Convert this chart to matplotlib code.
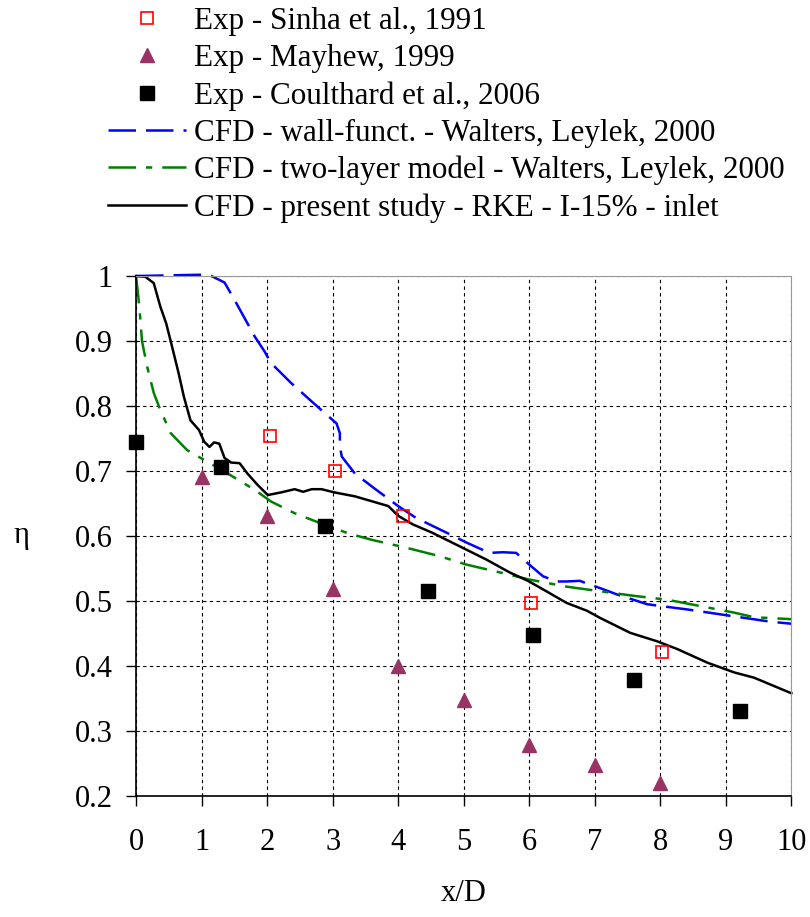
import matplotlib
matplotlib.use('Agg')
import matplotlib.pyplot as plt
from matplotlib import rcParams

rcParams.update({'font.family': 'serif', 'font.serif': ['Liberation Serif'], 'font.size': 22})

# --- experimental data --- #
sinha_x = [2.05, 3.03, 4.07, 6.03, 8.03]
sinha_y = [0.754, 0.700, 0.631, 0.497, 0.421]

mayhew_x = [1, 2, 3, 4, 5, 6, 7, 8]
mayhew_y = [0.690, 0.630, 0.518, 0.400, 0.348, 0.278, 0.248, 0.220]

coult_x = [0.0, 1.30, 2.89, 4.45, 6.05, 7.6, 9.22]
coult_y = [0.744, 0.706, 0.616, 0.515, 0.448, 0.378, 0.330]

# --- CFD: wall functions (Walters, Leylek) --- #
wf_x = [0.0, 0.5, 1.0, 1.15, 1.35, 1.52, 1.81, 1.96, 2.06, 2.37, 2.68, 3.06, 3.11, 3.11,
        3.14, 3.34, 3.64, 4.0, 4.27, 4.78, 5.04, 5.39, 5.6, 5.8, 6.0, 6.21, 6.42, 6.57,
        6.77, 7.13, 7.34, 7.8, 8.1, 8.41, 9.08, 9.69, 10.0]
wf_y = [1.0, 1.001, 1.002, 1.0, 0.99, 0.96, 0.907, 0.884, 0.866, 0.835, 0.807, 0.773, 0.758, 0.737,
        0.722, 0.696, 0.673, 0.646, 0.628, 0.603, 0.590, 0.574, 0.575, 0.574, 0.556, 0.538, 0.530, 0.530,
        0.531, 0.518, 0.510, 0.495, 0.491, 0.487, 0.477, 0.468, 0.465]

# --- CFD: two-layer model (Walters, Leylek) --- #
tl_x = [0.0, 0.05, 0.09, 0.17, 0.27, 0.37, 0.53, 0.78, 1.09, 1.40, 1.81, 2.06, 2.42, 2.83,
        3.24, 3.6, 4.12, 4.63, 5.04, 5.55, 6.0, 6.57, 7.08, 7.59, 8.1, 8.62, 9.13, 9.43, 10.0]
tl_y = [1.0, 0.953, 0.90, 0.86, 0.82, 0.794, 0.758, 0.732, 0.714, 0.696, 0.671, 0.653, 0.635, 0.619,
        0.604, 0.594, 0.582, 0.569, 0.556, 0.544, 0.533, 0.522, 0.515, 0.508, 0.502, 0.492, 0.482, 0.475, 0.472]

# --- CFD: present study --- #
rke_x = [0.0, 0.14, 0.27, 0.37, 0.46, 0.55, 0.65, 0.73, 0.83, 0.96, 1.04, 1.12, 1.19, 1.27,
         1.35, 1.45, 1.58, 1.70, 1.86, 2.01, 2.21, 2.42, 2.55, 2.68, 2.83, 3.03, 3.34, 3.85,
         4.0, 4.22, 4.52, 4.98, 5.34, 5.7, 5.98, 6.26, 6.57, 6.88, 7.08, 7.54, 7.95, 8.26,
         8.72, 9.13, 9.43, 10.0]
rke_y = [1.0, 0.999, 0.989, 0.953, 0.927, 0.891, 0.85, 0.814, 0.778, 0.763, 0.745, 0.737, 0.744, 0.742,
         0.72, 0.713, 0.712, 0.696, 0.678, 0.663, 0.667, 0.672, 0.668, 0.672, 0.672, 0.667, 0.661, 0.646,
         0.631, 0.618, 0.605, 0.582, 0.564, 0.544, 0.531, 0.515, 0.497, 0.485, 0.474, 0.451, 0.438, 0.426,
         0.405, 0.39, 0.382, 0.358]

fig = plt.figure(figsize=(8.1, 9.17), dpi=100)
ax = fig.add_axes([0.168, 0.132, 0.809, 0.567])

ax.plot(sinha_x, sinha_y, ls='none', marker='s', ms=9, mfc='none', mec='#ff0000', mew=1.2,
        label='Exp - Sinha et al., 1991', clip_on=False, zorder=5)
ax.plot(mayhew_x, mayhew_y, ls='none', marker='^', ms=10, color='#993366',
        label='Exp - Mayhew, 1999', clip_on=False, zorder=5)
ax.plot(coult_x, coult_y, ls='none', marker='s', ms=10, color='black',
        label='Exp - Coulthard et al., 2006', clip_on=False, zorder=5)
ax.plot(wf_x, wf_y, color='#0000ff', lw=1.8, dashes=(11, 4),
        label='CFD - wall-funct. - Walters, Leylek, 2000', clip_on=False)
ax.plot(tl_x, tl_y, color='#008000', lw=1.8, dashes=(11, 4, 2.5, 4),
        label='CFD - two-layer model - Walters, Leylek, 2000', clip_on=False)
ax.plot(rke_x, rke_y, color='black', lw=1.8,
        label='CFD - present study - RKE - I-15% - inlet', clip_on=False)

ax.set_xlim(0, 10)
ax.set_ylim(0.2, 1.0)
ax.set_xticks(range(0, 11))
ax.set_yticks([0.2, 0.3, 0.4, 0.5, 0.6, 0.7, 0.8, 0.9, 1.0])
ax.set_yticklabels(['0.2', '0.3', '0.4', '0.5', '0.6', '0.7', '0.8', '0.9', '1'])
ax.grid(True, color='black', ls=(0, (3, 3)), lw=0.8)
ax.tick_params(direction='out', length=7, width=1, pad=10)
ax.tick_params(axis='x', pad=16)

for s in ['top', 'right']:
    ax.spines[s].set_color('#999999')
for s in ['left', 'bottom']:
    ax.spines[s].set_linewidth(1.2)

ax.set_xlabel('x/D', labelpad=16)
ax.set_ylabel('η', rotation=0, labelpad=38, va='center')

fig.legend(loc='upper left', bbox_to_anchor=(0.118, 1.006), frameon=False, fontsize=22.4,
           handlelength=2.5, handletextpad=0.25, labelspacing=0.26, borderaxespad=0)

fig.savefig('out.png', dpi=100)
